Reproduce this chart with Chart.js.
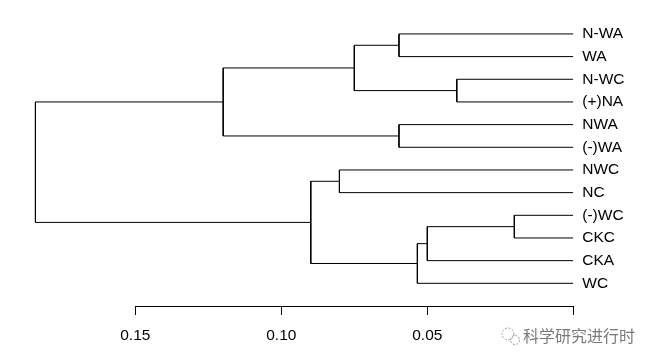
<!DOCTYPE html>
<html>
<head>
<meta charset="utf-8">
<script src="https://cdn.jsdelivr.net/npm/chart.js@4.4.0/dist/chart.umd.min.js"></script>
<style>
  html, body { margin: 0; padding: 0; background: #fff; }
</style>
</head>
<body>
<canvas id="grafico" width="655" height="361"></canvas>
<script>
// folhas do dendrograma, de cima para baixo
const folhas = ["N-WA", "WA", "N-WC", "(+)NA", "NWA", "(-)WA", "NWC", "NC", "(-)WC", "CKC", "CKA", "WC"];

// fusões no estilo hclust do R: negativo = folha, positivo = fusão anterior
const fusaoA = [-1, -3, 1, -5, 3, -9, 6, 7, -7, 9, 5];
const fusaoB = [-2, -4, 2, -6, 4, -10, -11, -12, -8, 8, 10];
const alturas = [0.0597, 0.0399, 0.0750, 0.0597, 0.1199, 0.0202, 0.0500, 0.0534, 0.0801, 0.0899, 0.1842];

const ticksX = [0.15, 0.10, 0.05, 0];

const FONTE = { family: "'Liberation Sans', Arial, sans-serif", size: 15.5 };

// posição (altura, y) de uma folha ou fusão
const nos = [];
function posicao(id) {
    if (id < 0) return { h: 0, y: -id };
    return nos[id - 1];
}
const datasets = [];
for (let k = 0; k < alturas.length; k++) {
    const a = posicao(fusaoA[k]);
    const b = posicao(fusaoB[k]);
    const h = alturas[k];
    nos.push({ h: h, y: (a.y + b.y) / 2 });
    // "colchete": filho A -> altura -> filho B
    datasets.push({
        data: [
            { x: a.h, y: a.y },
            { x: h, y: a.y },
            { x: h, y: b.y },
            { x: b.h, y: b.y },
        ],
        showLine: true,
        borderColor: "#000",
        borderWidth: 1,
        pointRadius: 0,
        tension: 0,
    });
}

// eixo inferior à moda do R (só de 0.15 a 0) + marca d'água
const eixoR = {
    id: "eixoR",
    afterDraw(chart) {
        const ctx = chart.ctx;
        const sx = chart.scales.x;
        const y0 = Math.round(chart.chartArea.bottom) + 0.5;
        ctx.save();
        ctx.strokeStyle = "#000";
        ctx.lineWidth = 1;
        ctx.beginPath();
        ctx.moveTo(Math.round(sx.getPixelForValue(0.15)) + 0.5, y0);
        ctx.lineTo(Math.round(sx.getPixelForValue(0)) + 0.5, y0);
        ctx.stroke();

        // ícone da marca d'água
        ctx.strokeStyle = "#9a9a9a";
        ctx.setLineDash([2, 1.5]);
        ctx.beginPath();
        ctx.arc(508, 334, 6, 0, Math.PI * 2);
        ctx.stroke();
        ctx.beginPath();
        ctx.arc(515, 340, 4.5, 0, Math.PI * 2);
        ctx.stroke();
        ctx.setLineDash([]);

        ctx.fillStyle = "#7a7a7a";
        ctx.font = "16px 'Noto Sans CJK SC', sans-serif";
        ctx.textBaseline = "middle";
        ctx.textAlign = "left";
        ctx.fillText("科学研究进行时", 523, 336);
        ctx.restore();
    },
};

new Chart(document.getElementById("grafico"), {
    type: "scatter",
    data: { datasets: datasets },
    options: {
        responsive: false,
        animation: false,
        devicePixelRatio: 1,
        layout: { padding: { left: 18.5, top: 22.6, right: 0, bottom: 0 } },
        plugins: { legend: { display: false }, tooltip: { enabled: false } },
        scales: {
            x: {
                type: "linear",
                reverse: true,
                min: 0,
                max: 0.19,
                position: "bottom",
                afterBuildTicks: (s) => { s.ticks = ticksX.map((v) => ({ value: v })); },
                afterFit: (s) => { s.height = 55; },
                grid: { drawOnChartArea: false, drawTicks: true, tickLength: 9, color: "#000" },
                border: { display: false },
                ticks: {
                    color: "#000",
                    font: FONTE,
                    padding: 11,
                    maxRotation: 0,
                    autoSkip: false,
                    callback: (v) => (v === 0 ? "" : v.toFixed(2)),
                },
            },
            y: {
                type: "linear",
                reverse: true,
                min: 0.5,
                max: 13,
                position: "right",
                afterBuildTicks: (s) => { s.ticks = folhas.map((_, i) => ({ value: i + 1 })); },
                afterFit: (s) => { s.width = 655 - 573.3; },
                grid: { display: false, drawTicks: false },
                border: { display: false },
                ticks: {
                    color: "#000",
                    font: FONTE,
                    padding: 9,
                    autoSkip: false,
                    callback: (v) => folhas[v - 1],
                },
            },
        },
    },
    plugins: [eixoR],
});
</script>
</body>
</html>
